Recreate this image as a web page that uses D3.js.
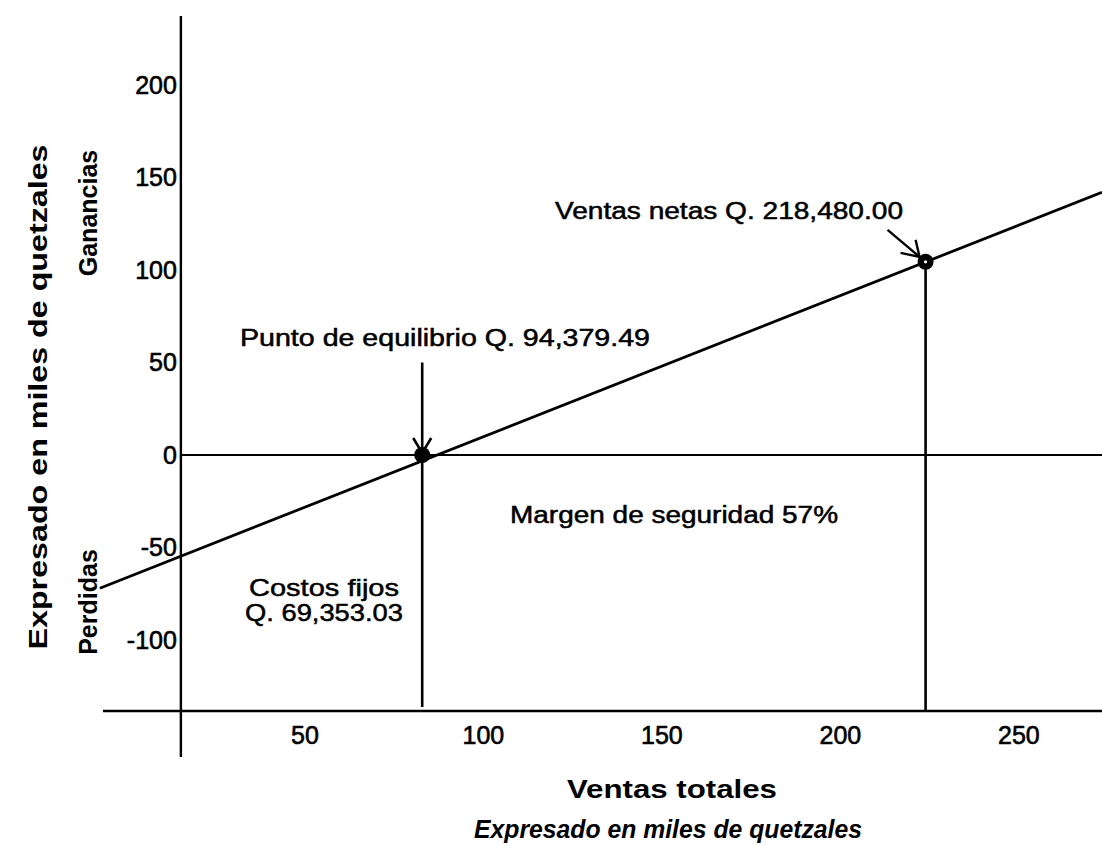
<!DOCTYPE html>
<html><head><meta charset="utf-8">
<script src="https://cdn.jsdelivr.net/npm/d3@7"></script>
<style>body{margin:0;background:#fff}svg{display:block}text{font-family:"Liberation Sans",Arial,sans-serif;fill:#000}</style>
</head><body>
<script>
// ---- data ----
const xTicks = [50, 100, 150, 200, 250];
const yTicks = [200, 150, 100, 50, 0, -50, -100];
const profitLine = [[-7.3, -72], [273.4, 142]];
const breakEven = {x: 83, y: 0};
const netSales = {x: 224, y: 104.4};
const labels = {
  breakEven: "Punto de equilibrio  Q. 94,379.49",
  netSales: "Ventas netas Q. 218,480.00",
  margin: "Margen de seguridad 57%",
  fixed1: "Costos fijos",
  fixed2: "Q. 69,353.03",
  xTitle: "Ventas totales",
  xSub: "Expresado en miles de quetzales",
  yTitle: "Expresado en miles de quetzales",
  gain: "Ganancias",
  loss: "Perdidas"
};

const W = 1102, H = 846;
const svg = d3.select("body").append("svg").attr("width", W).attr("height", H);
const x = d3.scaleLinear().domain([0, 250]).range([125.9, 1018.4]);
const y = d3.scaleLinear().domain([0, 200]).range([455, 85]);
const xMin = x.invert(103), xMax = x.invert(1102), xAxisAt = 15.4;
const yTop = y.invert(16), yBot = y.invert(757), yAxisAt = y.invert(711);
const fmt = d => String(d); // hyphen-minus like the original

const g = svg.append("g");
g.append("line").attr("x1", x(xAxisAt)).attr("x2", x(xAxisAt)).attr("y1", y(yTop)).attr("y2", y(yBot))
  .attr("stroke", "#000").attr("stroke-width", 2.4);
g.append("line").attr("x1", x(xMin)).attr("x2", x(xMax)).attr("y1", y(yAxisAt)).attr("y2", y(yAxisAt))
  .attr("stroke", "#000").attr("stroke-width", 2.4);
g.append("line").attr("x1", x(xAxisAt)).attr("x2", x(xMax)).attr("y1", y(0)).attr("y2", y(0))
  .attr("stroke", "#000").attr("stroke-width", 2);

const yAxis = d3.axisLeft(y).tickValues(yTicks).tickSize(0).tickPadding(4).tickFormat(fmt);
const ya = g.append("g").attr("transform", `translate(${x(xAxisAt)},0)`).call(yAxis);
ya.select(".domain").remove();
ya.selectAll("text").attr("font-size", 25).attr("font-family", "Liberation Sans, Arial")
  .attr("fill", "#000").attr("stroke", "#000").attr("stroke-width", 0.6);

const xAxis = d3.axisBottom(x).tickValues(xTicks).tickSize(0).tickPadding(15).tickFormat(fmt);
const xa = g.append("g").attr("transform", `translate(0,${y(yAxisAt)})`).call(xAxis);
xa.select(".domain").remove();
xa.selectAll("text").attr("font-size", 25).attr("font-family", "Liberation Sans, Arial")
  .attr("fill", "#000").attr("stroke", "#000").attr("stroke-width", 0.6);

g.append("path").attr("d", d3.line().x(d => x(d[0])).y(d => y(d[1]))(profitLine))
  .attr("stroke", "#000").attr("stroke-width", 2.8).attr("fill", "none");

const bx = x(breakEven.x), by = y(breakEven.y);
g.append("line").attr("x1", bx).attr("x2", bx).attr("y1", y(50)).attr("y2", y(yAxisAt) - 4)
  .attr("stroke", "#000").attr("stroke-width", 2.6);
g.append("path").attr("d", `M${bx-9},${by-17}L${bx},${by-2}L${bx+9},${by-17}`)
  .attr("stroke", "#000").attr("stroke-width", 2.6).attr("fill", "none");
g.append("circle").attr("cx", bx).attr("cy", by).attr("r", 8).attr("fill", "#000");

const sx = x(netSales.x), sy = y(netSales.y);
g.append("line").attr("x1", sx).attr("x2", sx).attr("y1", sy).attr("y2", y(yAxisAt))
  .attr("stroke", "#000").attr("stroke-width", 2.6);
g.append("path").attr("d", `M${sx-38},${sy-32}L${sx-6},${sy-5}`).attr("stroke", "#000").attr("stroke-width", 2.4);
g.append("path").attr("d", `M${sx-10},${sy-22}L${sx-6},${sy-5}L${sx-25},${sy-9}`)
  .attr("stroke", "#000").attr("stroke-width", 2.4).attr("fill", "none");
g.append("circle").attr("cx", sx).attr("cy", sy).attr("r", 8).attr("fill", "#000");
g.append("circle").attr("cx", sx).attr("cy", sy).attr("r", 1.6).attr("fill", "#fff");

const T = (txt, px, py, opts = {}) => {
  const t = g.append("text").attr("x", px).attr("y", py).text(txt)
    .attr("font-size", opts.size || 21).attr("text-anchor", opts.anchor || "start");
  if (opts.weight) t.attr("font-weight", opts.weight);
  else t.attr("stroke", "#000").attr("stroke-width", 0.5);
  if (opts.style) t.attr("font-style", opts.style);
  if (opts.len) t.attr("textLength", opts.len).attr("lengthAdjust", "spacingAndGlyphs");
  if (opts.rotate) t.attr("transform", `rotate(-90,${px},${py})`);
  return t;
};
T(labels.netSales, 555, 219, {size: 23, len: 348});
T(labels.breakEven, 240, 346, {size: 23, len: 410});
T(labels.margin, 510, 523, {size: 23, len: 328});
T(labels.fixed1, 324, 596, {size: 24, anchor: "middle", len: 150});
T(labels.fixed2, 324, 621, {size: 24, anchor: "middle", len: 158});
T(labels.xTitle, 672, 798, {size: 25, weight: "bold", anchor: "middle", len: 210});
T(labels.xSub, 668, 838, {size: 25, weight: "bold", style: "italic", anchor: "middle", len: 388});
T(labels.yTitle, 47, 397, {size: 25, weight: "bold", anchor: "middle", rotate: true, len: 505});
T(labels.gain, 97, 213, {size: 25, weight: "bold", anchor: "middle", rotate: true});
T(labels.loss, 97, 602, {size: 25, weight: "bold", anchor: "middle", rotate: true});
</script>
</body></html>
